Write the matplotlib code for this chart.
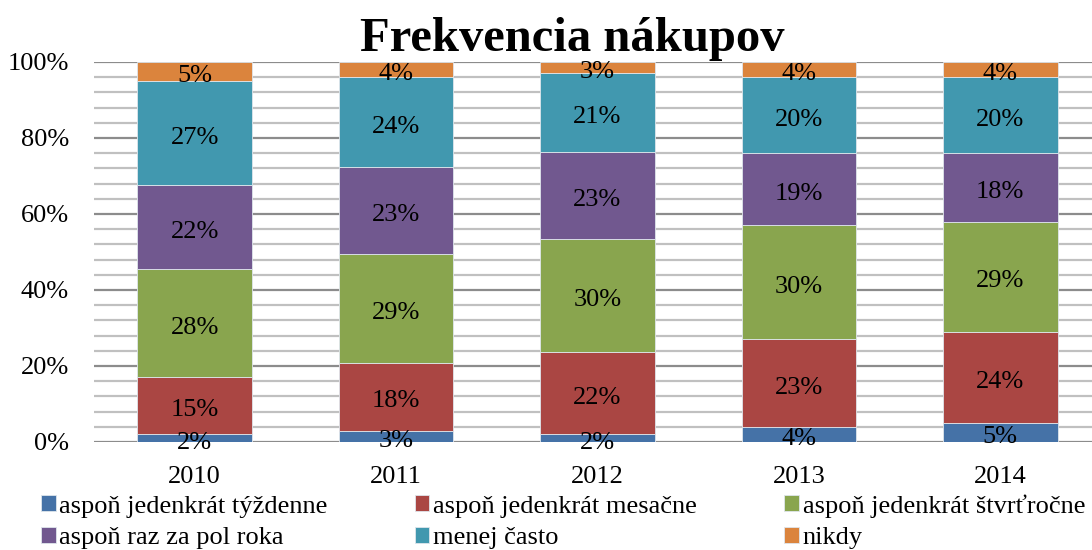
import matplotlib
matplotlib.use("Agg")
import matplotlib.pyplot as plt
import numpy as np
from matplotlib.ticker import MultipleLocator, FuncFormatter

years = ["2010", "2011", "2012", "2013", "2014"]
series_names = ["aspoň jedenkrát týždenne", "aspoň jedenkrát mesačne",
                "aspoň jedenkrát štvrťročne", "aspoň raz za pol roka",
                "menej často", "nikdy"]
tyzdenne = [2, 3, 2, 4, 5]
mesacne = [15, 18, 22, 23, 24]
stvrtrocne = [28, 29, 30, 30, 29]
pol_roka = [22, 23, 23, 19, 18]
menej = [27, 24, 21, 20, 20]
nikdy = [5, 4, 3, 4, 4]
colors = ["#4572A7", "#AA4643", "#89A54E", "#71588F", "#4198AF", "#DB843D"]

plt.rcParams['font.family'] = ['Liberation Serif', 'DejaVu Serif']

W, H = 1092, 550
fig = plt.figure(figsize=(W / 100, H / 100), dpi=100)
ax = fig.add_axes([94 / W, 1 - 442 / H, (1101 - 94) / W, (442 - 62) / H])

data = np.array([tyzdenne, mesacne, stvrtrocne, pol_roka, menej, nikdy], dtype=float)
totals = data.sum(axis=0)
pct = data / totals * 100

x = np.arange(len(years))
bottom = np.zeros(len(years))
handles = []
for i, name in enumerate(series_names):
    bars = ax.bar(x, pct[i], 0.57, bottom=bottom, color=colors[i], label=name,
                  edgecolor="#dfe6ec", linewidth=0.6, zorder=3)
    handles.append(bars)
    for j in range(len(years)):
        ax.annotate(f"{int(data[i][j])}%", (x[j], bottom[j] + pct[i][j] / 2),
                    xytext=(0, -7.6), textcoords="offset points",
                    ha="center", va="baseline", fontsize=19, color="black",
                    zorder=4)
    bottom += pct[i]

ax.set_xlim(-0.5, len(years) - 0.5)
ax.set_ylim(0, 100)
ax.set_xticks(x)
ax.set_xticklabels(years, fontsize=19)
ax.yaxis.set_major_locator(MultipleLocator(20))
ax.yaxis.set_minor_locator(MultipleLocator(4))
ax.yaxis.set_major_formatter(FuncFormatter(lambda v, p: f"{int(round(v))}%"))
ax.tick_params(axis="y", which="both", length=0, labelsize=19, pad=18)
ax.tick_params(axis="x", length=0, pad=17)
ax.grid(axis="y", which="minor", color="#c0c0c0", linewidth=1.6, zorder=0)
ax.grid(axis="y", which="major", color="#8c8c8c", linewidth=1.6, zorder=1)
for s in ax.spines.values():
    s.set_visible(False)

fig.text(572 / W, 1 - 51 / H, "Frekvencia nákupov", ha="center", va="baseline",
         fontsize=35, fontweight="bold")

order = [0, 3, 1, 4, 2, 5]
leg = fig.legend([handles[k] for k in order], [series_names[k] for k in order],
                 ncol=3, loc="upper left", bbox_to_anchor=(41 / W, 1 - 494 / H),
                 frameon=False, fontsize=19, handlelength=0.55, handleheight=0.55,
                 handletextpad=0.15, columnspacing=3.3, labelspacing=0.36,
                 borderpad=0, borderaxespad=0)

fig.savefig("out.png", dpi=100)
